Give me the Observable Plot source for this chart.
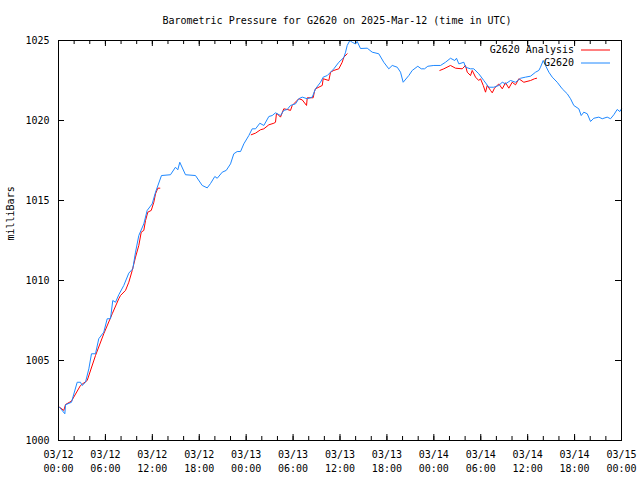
<!DOCTYPE html>
<html><head><meta charset="utf-8">
<script src="https://cdn.jsdelivr.net/npm/d3@7"></script>
<script src="https://cdn.jsdelivr.net/npm/@observablehq/plot@0.6"></script>
<style>html,body{margin:0;padding:0;background:#fff} svg{display:block}</style>
</head><body><div id="chart"></div>
<script>
const title = "Barometric Pressure for G2620 on 2025-Mar-12 (time in UTC)";
const yLabel = "milliBars";
const seriesNames = ["G2620 Analysis", "G2620"];
const seriesColors = ["#ff0000", "#1e88ff"];
const startTime = "2025-03-12T00:00:00Z";
const endTime = "2025-03-15T00:00:00Z";
const yTicks = [1000, 1005, 1010, 1015, 1020, 1025];

// G2620 observations: hours since 03/12 00:00 UTC, pressure (mb)
const stationHours = [0.13,0.81,0.90,1.66,2.39,2.81,3.03,3.45,3.88,4.22,4.73,5.15,5.79,6.23,6.65,6.94,7.29,7.71,8.35,8.99,9.50,9.85,10.27,10.91,11.34,11.98,12.41,13.17,14.32,14.96,15.26,15.51,16.24,17.52,18.38,19.02,19.44,19.99,20.30,20.94,21.45,22.00,22.42,22.85,23.28,23.70,24.34,24.77,25.20,25.75,26.26,26.90,27.33,27.75,28.39,28.81,29.25,29.67,30.31,30.73,31.17,31.81,32.45,32.87,33.51,33.85,34.37,34.79,35.21,35.85,36.49,36.71,36.92,37.26,37.56,37.98,38.20,38.62,39.48,40.12,40.96,41.60,42.24,42.68,43.32,43.74,44.08,44.80,45.24,45.95,46.39,46.81,47.23,48.00,48.86,49.49,50.13,50.68,50.90,51.20,51.84,52.05,52.69,53.11,53.75,54.39,55.03,55.67,56.31,56.75,57.17,57.81,58.45,59.09,59.73,60.37,61.01,61.43,61.64,61.99,62.28,62.71,63.14,63.78,64.42,65.06,65.48,65.90,66.54,66.85,67.18,67.62,68.04,68.46,69.10,69.54,70.17,70.60,71.02,71.45,71.79,72.00];
const stationPressure = [1002.08,1001.67,1002.23,1002.39,1003.64,1003.64,1003.44,1003.64,1004.48,1005.42,1005.42,1006.36,1006.77,1007.61,1007.61,1008.75,1008.64,1009.11,1009.69,1010.46,1010.73,1011.77,1012.81,1013.54,1014.38,1014.79,1015.52,1016.56,1016.61,1017.08,1016.92,1017.39,1016.61,1016.56,1015.94,1015.79,1016.06,1016.50,1016.39,1016.77,1016.88,1017.29,1017.92,1018.06,1018.06,1018.54,1019.06,1019.48,1019.48,1019.83,1019.69,1020.25,1020.31,1020.48,1020.31,1020.63,1020.69,1020.94,1021.04,1021.36,1021.46,1021.36,1021.46,1021.98,1022.39,1022.71,1022.81,1023.02,1023.23,1023.64,1023.94,1024.27,1024.69,1025.00,1024.89,1024.79,1024.94,1024.50,1024.52,1024.27,1024.17,1023.64,1023.23,1023.44,1023.33,1023.02,1022.39,1022.81,1023.13,1023.39,1023.23,1023.23,1023.39,1023.44,1023.44,1023.64,1023.89,1023.75,1023.89,1023.54,1023.64,1023.33,1023.23,1023.23,1022.92,1022.50,1022.08,1022.08,1022.19,1022.39,1022.29,1022.50,1022.39,1022.64,1022.71,1022.77,1023.02,1023.13,1023.33,1023.75,1023.44,1023.02,1022.71,1022.39,1021.98,1021.67,1021.36,1020.94,1020.73,1020.31,1020.52,1020.42,1019.94,1020.14,1020.21,1020.11,1020.21,1020.11,1020.36,1020.69,1020.56,1020.73];

// G2620 Analysis: three runs
const analysisHours = [0.13,0.68,0.90,1.66,2.81,3.67,4.73,5.79,6.87,7.71,7.93,8.57,8.99,9.43,9.85,10.27,10.58,10.91,11.13,11.42,11.86,12.19,12.41,12.70,12.96,
  24.65,25.20,25.83,26.26,26.90,27.54,27.75,27.88,28.39,28.81,29.25,29.67,29.89,30.73,31.17,31.72,31.81,32.57,32.74,32.87,33.73,33.85,34.57,34.79,35.21,35.85,36.28,36.49,36.92,
  48.77,49.28,50.13,50.77,51.63,52.05,52.27,52.69,52.91,53.33,53.75,53.97,54.32,54.61,54.83,55.25,55.47,55.76,56.31,56.75,57.17,57.59,58.02,58.45,58.87,59.51,60.37,60.88,61.14];
const analysisPressure = [1002.08,1001.88,1002.25,1002.46,1003.44,1003.75,1005.31,1006.67,1007.92,1008.86,1009.06,1009.38,1009.89,1010.63,1011.46,1012.19,1013.02,1013.13,1013.75,1014.27,1014.38,1014.89,1015.42,1015.77,1015.77,
  1019.11,1019.21,1019.42,1019.48,1019.73,1019.83,1019.89,1020.46,1020.21,1020.73,1020.69,1020.63,1020.94,1021.36,1021.29,1020.94,1021.42,1021.42,1021.83,1021.98,1022.19,1022.61,1022.50,1023.02,1023.13,1023.23,1023.64,1023.96,1024.17,
  1023.13,1023.23,1023.44,1023.27,1023.23,1023.44,1023.02,1022.81,1023.13,1022.71,1022.50,1022.61,1022.19,1021.77,1022.19,1021.88,1021.73,1022.02,1022.29,1021.98,1022.36,1022.02,1022.39,1022.23,1022.61,1022.39,1022.50,1022.61,1022.64];
const analysisRun = [1,1,1,1,1,1,1,1,1,1,1,1,1,1,1,1,1,1,1,1,1,1,1,1,1,
  2,2,2,2,2,2,2,2,2,2,2,2,2,2,2,2,2,2,2,2,2,2,2,2,2,2,2,2,2,
  3,3,3,3,3,3,3,3,3,3,3,3,3,3,3,3,3,3,3,3,3,3,3,3,3,3,3,3,3];

const t0 = new Date(startTime), t1 = new Date(endTime);
const toDate = h => new Date(+t0 + h * 3600e3);
const station = stationHours.map((h, i) => ({t: toDate(h), p: stationPressure[i]}));
const analysis = analysisHours.map((h, i) => ({t: toDate(h), p: analysisPressure[i], run: analysisRun[i]}));

const majorTicks = d3.utcHour.every(6).range(t0, new Date(+t1 + 1));
const minorTicks = d3.utcHour.every(2).range(t0, new Date(+t1 + 1));
const fmtDay = d3.utcFormat("%m/%d"), fmtTime = d3.utcFormat("%H:%M");

const W = 640, H = 480, ML = 58, MR = 19, MT = 40, MB = 40;
const FW = W - ML - MR, FH = H - MT - MB;
const font = "'DejaVu Sans Mono', 'Liberation Mono', monospace";

const chart = Plot.plot({
  width: W, height: H,
  marginLeft: ML, marginRight: MR, marginTop: MT, marginBottom: MB,
  style: {fontFamily: font, fontSize: "10px", color: "#000", background: "#fff", overflow: "visible"},
  x: {type: "utc", domain: [t0, t1]},
  y: {domain: [1000, 1025]},
  marks: [
    Plot.ruleX(minorTicks, {insetTop: FH - 4, stroke: "#000"}),
    Plot.ruleX(minorTicks, {insetBottom: FH - 4, stroke: "#000"}),
    Plot.ruleX(majorTicks, {insetTop: FH - 6, stroke: "#000"}),
    Plot.ruleX(majorTicks, {insetBottom: FH - 6, stroke: "#000"}),
    Plot.ruleY(yTicks, {insetRight: FW - 6, stroke: "#000"}),
    Plot.ruleY(yTicks, {insetLeft: FW - 6, stroke: "#000"}),
    Plot.axisX(majorTicks, {tickSize: 0, tickPadding: 8, lineHeight: 1.35, tickFormat: d => fmtDay(d) + "\n" + fmtTime(d), label: null}),
    Plot.axisY(yTicks, {tickSize: 0, tickPadding: 9, tickFormat: d => String(d), label: null}),
    Plot.line(analysis, {x: "t", y: "p", z: "run", stroke: seriesColors[0], strokeWidth: 1}),
    Plot.line(station, {x: "t", y: "p", stroke: seriesColors[1], strokeWidth: 1}),
    Plot.frame({stroke: "#000"}),
    Plot.text([title], {frameAnchor: "top", dy: -17, dx: -3, fontSize: 10, lineAnchor: "bottom"}),
    Plot.text([yLabel], {frameAnchor: "left", rotate: -90, dx: -48, fontSize: 10})
  ]
});
document.getElementById("chart").appendChild(chart);

// legend (top right, inside frame)
const svg = d3.select(chart);
const lg = svg.append("g").attr("font-family", font).attr("font-size", 10);
seriesNames.forEach((name, i) => {
  const y = MT + 10 + i * 13;
  lg.append("text").attr("x", W - MR - 47).attr("y", y).attr("dy", "0.32em")
    .attr("text-anchor", "end").attr("fill", "#000").text(name);
  lg.append("line").attr("x1", W - MR - 40).attr("x2", W - MR - 11)
    .attr("y1", y).attr("y2", y).attr("stroke", seriesColors[i]).attr("stroke-width", 1);
});
</script>
</body></html>
